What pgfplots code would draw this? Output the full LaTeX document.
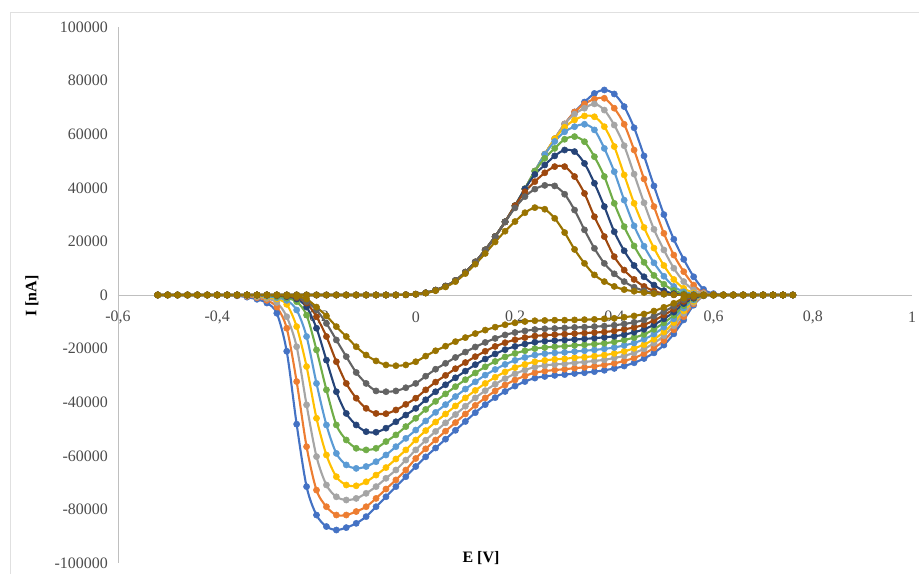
\documentclass[border=0pt]{standalone}
\usepackage{fontspec}
\setmainfont{Liberation Serif}
\usepackage{pgfplots}
\usepackage{pgfplotstable}
\pgfplotsset{compat=1.18}
\definecolor{c1}{HTML}{4472C4}
\definecolor{c2}{HTML}{ED7D31}
\definecolor{c3}{HTML}{A5A5A5}
\definecolor{c4}{HTML}{FFC000}
\definecolor{c5}{HTML}{5B9BD5}
\definecolor{c6}{HTML}{70AD47}
\definecolor{c7}{HTML}{264478}
\definecolor{c8}{HTML}{9E480E}
\definecolor{c9}{HTML}{636363}
\definecolor{c10}{HTML}{997300}
% current in thousands of nA (1 = 1000 nA)
\pgfplotstableread{
x a b c d e f g h i j
-0.52 0 0 0 0 0 0 0 0 0 0
-0.50 0 0 0 0 0 0 0 0 0 0
-0.48 0 0 0 0 0 0 0 0 0 0
-0.46 0 0 0 0 0 0 0 0 0 0
-0.44 0 0 0 0 0 0 0 0 0 0
-0.42 0 0 0 0 0 0 0 0 0 0
-0.40 0 0 0 0 0 0 0 0 0 0
-0.38 0 0 0 0 0 0 0 0 0 0
-0.36 0 0 0 0 0 0 0 0 0 0
-0.34 0 0 0 0 0 0 0 0 0 0
-0.32 0 0 0 0 0 0 0 0 0 0
-0.30 0 0 0 0 0 0 0 0 0 0
-0.28 0 0 0 0 0 0 0 0 0 0
-0.26 0 0 0 0 0 0 0 0 0 0
-0.24 0 0 0 0 0 0 0 0 0 0
-0.22 0 0 0 0 0 0 0 0 0 0
-0.20 0 0 0 0 0 0 0 0 0 0
-0.18 0 0 0 0 0 0 0 0 0 0
-0.16 0 0 0 0 0 0 0 0 0 0
-0.14 0 0 0 0 0 0 0 0 0 0
-0.12 0 0 0 0 0 0 0 0 0 0
-0.10 0 0 0 0 0 0 0 0 0 0
-0.08 0 0 0 0 0 0 0 0 0 0
-0.06 0 0 0 0 0 0 0 0 0 0
-0.04 0 0 0 0 0 0 0 0 0 0
-0.02 0.1 0.1 0.1 0.1 0.1 0.1 0.1 0.1 0.1 0.1
0.00 0.3 0.3 0.3 0.3 0.3 0.3 0.3 0.3 0.3 0.3
0.02 0.8 0.8 0.8 0.8 0.8 0.8 0.8 0.8 0.8 0.7
0.04 1.8 1.8 1.8 1.8 1.8 1.8 1.8 1.8 1.8 1.6
0.06 3.3 3.3 3.3 3.3 3.3 3.3 3.3 3.3 3.3 3.0
0.08 5.4 5.4 5.4 5.4 5.4 5.4 5.4 5.4 5.4 5.0
0.10 8.5 8.5 8.5 8.5 8.5 8.5 8.5 8.5 8.5 8.0
0.12 12.3 12.3 12.3 12.3 12.3 12.3 12.3 12.3 12.3 11.5
0.14 16.8 16.8 16.8 16.8 16.8 16.8 16.8 16.8 16.8 15.5
0.16 21.8 21.8 21.8 21.8 21.8 21.8 21.8 21.8 21.8 19.8
0.18 27.3 27.3 27.3 27.3 27.3 27.3 27.3 27.3 27.3 23.8
0.20 33.3 33.3 33.3 33.3 33.3 33.3 33.3 33.3 32.5 27.4
0.22 39.6 39.6 39.6 39.6 39.6 39.6 39.6 38.5 36.7 30.7
0.24 46.2 46.2 46.2 46.2 46.2 46.2 45.0 42.3 39.5 32.6
0.26 52.5 52.5 52.5 52.5 52.5 51.0 48.5 45.6 40.9 32.0
0.28 58.3 58.3 58.3 58.3 57.3 54.7 51.9 47.9 40.7 28.6
0.30 63.8 63.8 63.8 62.6 60.9 58.1 54.1 47.9 37.6 23.3
0.32 68.3 68.3 67.5 65.3 62.8 59.1 53.5 44.2 31.7 17.0
0.34 72.0 71.3 69.7 66.8 63.7 57.2 49.1 37.9 24.3 11.8
0.36 75.2 73.1 71.3 66.5 61.6 51.6 41.7 29.2 17.4 7.5
0.38 76.5 73.4 69.0 62.8 54.7 44.2 33.0 21.8 11.8 5.0
0.40 75.0 69.7 63.4 55.4 46.0 34.2 23.6 14.3 7.9 3.2
0.42 70.3 63.7 55.7 44.8 35.4 25.5 16.5 9.3 5.0 2.0
0.44 62.4 54.1 45.1 34.2 25.8 18.3 11.0 5.8 2.9 1.4
0.46 51.9 43.3 34.4 25.2 18.2 12.2 6.8 3.2 1.6 0.9
0.48 40.7 33.0 24.5 17.5 12.0 7.3 3.7 1.5 0.7 0.5
0.50 30.0 23.0 16.8 11.0 7.0 4.0 1.6 0.5 0.3 0.3
0.52 20.8 14.9 10.0 5.8 3.2 1.7 0.5 0.1 0.1 0.1
0.54 13.3 8.7 5.0 2.5 1.2 0.5 0.1 0 0 0
0.56 6.8 3.7 1.9 0.8 0.4 0.1 0 0 0 0
0.58 2.1 0.9 0.6 0.2 0 0 0 0 0 0
0.60 0.5 0.2 0.1 0 0 0 0 0 0 0
0.62 0.1 0 0 0 0 0 0 0 0 0
0.64 0 0 0 0 0 0 0 0 0 0
0.66 0 0 0 0 0 0 0 0 0 0
0.68 0 0 0 0 0 0 0 0 0 0
0.70 0 0 0 0 0 0 0 0 0 0
0.72 0 0 0 0 0 0 0 0 0 0
0.74 0 0 0 0 0 0 0 0 0 0
0.76 0 0 0 0 0 0 0 0 0 0
0.74 0 0 0 0 0 0 0 0 0 0
0.72 0 0 0 0 0 0 0 0 0 0
0.70 0 0 0 0 0 0 0 0 0 0
0.68 0 0 0 0 0 0 0 0 0 0
0.66 0 0 0 0 0 0 0 0 0 0
0.64 0 0 0 0 0 0 0 0 0 0
0.62 0 0 0 0 0 0 0 0 0 0
0.60 0 0 0 0 0 0 0 0 0 0
0.58 -0.3 -0.3 -0.2 -0.2 -0.2 -0.2 -0.1 -0.1 -0.1 -0.1
0.56 -3.8 -3.3 -2.8 -2.4 -1.9 -1.5 -1.2 -0.9 -0.6 -0.4
0.54 -9.3 -8.1 -6.9 -5.9 -4.9 -4.0 -3.2 -2.4 -1.8 -1.2
0.52 -14.5 -13.0 -11.5 -10.3 -8.9 -7.6 -6.4 -5.3 -4.2 -3.1
0.50 -18.7 -17.0 -15.2 -13.8 -12.0 -10.4 -8.9 -7.5 -6.2 -4.6
0.48 -21.6 -19.8 -18.0 -16.5 -14.6 -12.8 -11.1 -9.5 -7.9 -6.0
0.46 -23.7 -21.9 -20.1 -18.5 -16.5 -14.7 -12.8 -11.1 -9.3 -7.1
0.44 -25.3 -23.5 -21.6 -19.9 -17.9 -15.9 -13.9 -12.1 -10.2 -7.8
0.42 -26.5 -24.6 -22.7 -21.0 -18.8 -16.8 -14.8 -12.8 -10.8 -8.3
0.40 -27.4 -25.5 -23.5 -21.8 -19.6 -17.5 -15.4 -13.4 -11.3 -8.7
0.38 -28.1 -26.1 -24.2 -22.4 -20.1 -18.0 -15.8 -13.8 -11.6 -8.9
0.36 -28.6 -26.6 -24.6 -22.8 -20.5 -18.3 -16.1 -14.0 -11.8 -9.1
0.34 -29.0 -27.0 -25.0 -23.2 -20.8 -18.6 -16.4 -14.2 -12.0 -9.2
0.32 -29.3 -27.3 -25.3 -23.4 -21.1 -18.8 -16.6 -14.4 -12.1 -9.3
0.30 -29.7 -27.7 -25.7 -23.8 -21.4 -19.1 -16.8 -14.6 -12.3 -9.4
0.28 -30.0 -28.0 -25.9 -24.0 -21.6 -19.3 -17.0 -14.8 -12.5 -9.4
0.26 -30.4 -28.4 -26.3 -24.4 -21.9 -19.6 -17.2 -15.0 -12.6 -9.5
0.24 -31.0 -29.0 -26.9 -24.9 -22.4 -20.0 -17.6 -15.3 -12.9 -9.6
0.22 -32.3 -30.2 -28.0 -25.9 -23.3 -20.8 -18.3 -15.9 -13.4 -9.9
0.20 -34.0 -31.7 -29.4 -27.1 -24.4 -21.8 -19.2 -16.7 -14.0 -10.4
0.18 -36.0 -33.6 -31.2 -28.7 -25.9 -23.1 -20.4 -17.8 -14.9 -11.1
0.16 -38.3 -35.8 -33.3 -30.7 -27.8 -24.8 -22.0 -19.2 -16.2 -12.0
0.14 -40.9 -38.4 -35.7 -33.0 -29.9 -26.8 -23.9 -21.0 -17.7 -13.1
0.12 -43.9 -41.2 -38.4 -35.6 -32.4 -29.1 -26.0 -23.0 -19.4 -14.4
0.10 -47.2 -44.4 -41.5 -38.4 -35.1 -31.6 -28.4 -25.2 -21.3 -15.9
0.08 -50.5 -47.6 -44.6 -41.4 -37.9 -34.2 -30.9 -27.5 -23.3 -17.4
0.06 -53.8 -50.8 -47.7 -44.4 -40.9 -36.9 -33.5 -30.0 -25.5 -19.1
0.04 -57.1 -54.1 -50.9 -47.4 -43.8 -39.7 -36.1 -32.5 -27.7 -20.8
0.02 -60.4 -57.4 -54.2 -50.6 -47.0 -42.7 -39.1 -35.4 -30.3 -22.8
0.00 -64.0 -61.0 -57.8 -54.1 -50.4 -46.0 -42.3 -38.5 -33.0 -24.9
-0.02 -67.8 -65.3 -61.6 -57.8 -53.5 -49.1 -44.8 -40.8 -34.6 -26.1
-0.04 -71.5 -69.0 -65.3 -61.2 -56.6 -52.2 -47.3 -42.9 -35.8 -26.4
-0.06 -75.3 -72.4 -68.4 -64.4 -59.7 -54.7 -49.7 -44.3 -36.1 -26.1
-0.08 -79.0 -75.9 -71.5 -67.2 -62.2 -57.2 -51.2 -44.2 -35.8 -24.6
-0.10 -82.7 -79.0 -74.0 -69.7 -64.0 -57.8 -51.0 -42.3 -33.0 -22.4
-0.12 -85.2 -80.8 -75.9 -71.2 -64.7 -57.2 -48.5 -38.5 -28.9 -19.3
-0.14 -86.8 -82.1 -76.5 -70.9 -63.4 -54.1 -44.2 -33.0 -23.0 -15.5
-0.16 -87.7 -82.1 -75.3 -67.8 -59.1 -48.5 -36.1 -24.9 -16.8 -11.8
-0.18 -86.4 -79.0 -70.9 -59.7 -48.5 -35.4 -24.3 -15.5 -10.6 -7.8
-0.20 -82.1 -72.8 -60.3 -46.0 -33.0 -20.5 -12.4 -8.1 -5.6 -4.5
-0.22 -71.5 -56.6 -41.0 -26.7 -15.5 -7.5 -4.5 -3.0 -2.5 -1.5
-0.24 -48.2 -32.3 -19.3 -11.8 -5.6 -2.5 -1.5 -1.0 -0.8 -0.6
-0.26 -21.0 -12.4 -8.1 -3.5 -2.0 -1.2 -0.6 -0.4 -0.2 -0.2
-0.28 -6.8 -4.5 -2.8 -1.5 -1.0 -0.6 -0.2 -0.1 0 0
-0.30 -3.0 -2.0 -1.3 -0.8 -0.5 -0.2 0 0 0 0
-0.32 -1.6 -1.0 -0.7 -0.4 -0.2 0 0 0 0 0
-0.34 -0.8 -0.5 -0.3 -0.1 0 0 0 0 0 0
-0.36 -0.3 -0.2 -0.1 0 0 0 0 0 0 0
-0.38 0 0 0 0 0 0 0 0 0 0
-0.40 0 0 0 0 0 0 0 0 0 0
-0.42 0 0 0 0 0 0 0 0 0 0
-0.44 0 0 0 0 0 0 0 0 0 0
-0.46 0 0 0 0 0 0 0 0 0 0
-0.48 0 0 0 0 0 0 0 0 0 0
-0.50 0 0 0 0 0 0 0 0 0 0
-0.52 0 0 0 0 0 0 0 0 0 0
}\cvdata

\pgfplotsset{
  cv/.style={color=#1, line width=2.1bp, smooth, mark=*, mark size=3.1bp, mark options={solid, fill=#1, draw=#1, line width=0.5bp}},
}

\begin{document}
\begin{tikzpicture}[x=1bp,y=1bp]
\path[use as bounding box] (-118,-11) rectangle (801,563);
\fill[white] (-118,-11) rectangle (801,563);
\draw[black!12, line width=0.75bp] (-108,-11) -- (-108,551) -- (801,551);
\begin{axis}[
  at={(0,0)}, anchor=south west,
  scale only axis, width=794bp, height=536bp,
  xmin=-0.6, xmax=1, ymin=-100, ymax=100,
  axis x line*=middle, axis y line*=left,
  hide obscured x ticks=false, hide obscured y ticks=false,
  axis line style={draw=black!25, line width=0.75bp},
  xtick={-0.6,-0.4,-0.2,0,0.2,0.4,0.6,0.8,1},
  xticklabels={{-0,6},{-0,4},{-0,2},0,{0,2},{0,4},{0,6},{0,8},1},
  ytick={-100,-80,-60,-40,-20,0,20,40,60,80,100},
  yticklabels={-100000,-80000,-60000,-40000,-20000,0,20000,40000,60000,80000,100000},
  major tick length=0pt,
  tick label style={font=\fontsize{16}{19}\selectfont, text=black!70},
  xticklabel style={anchor=center, inner sep=0pt, yshift=-22bp},
  yticklabel style={anchor=east, inner sep=0pt, xshift=-10bp},
  clip=false,
]
\addplot[cv=c1] table[x=x,y=a]{\cvdata};
\addplot[cv=c2] table[x=x,y=b]{\cvdata};
\addplot[cv=c3] table[x=x,y=c]{\cvdata};
\addplot[cv=c4] table[x=x,y=d]{\cvdata};
\addplot[cv=c5] table[x=x,y=e]{\cvdata};
\addplot[cv=c6] table[x=x,y=f]{\cvdata};
\addplot[cv=c7] table[x=x,y=g]{\cvdata};
\addplot[cv=c8] table[x=x,y=h]{\cvdata};
\addplot[cv=c9] table[x=x,y=i]{\cvdata};
\addplot[cv=c10] table[x=x,y=j]{\cvdata};
\end{axis}
\node[font=\bfseries\fontsize{16}{19}\selectfont, rotate=90] at (-86,267) {I [nA]};
\node[font=\bfseries\fontsize{16}{19}\selectfont] at (363,5) {E [V]};
\end{tikzpicture}
\end{document}
